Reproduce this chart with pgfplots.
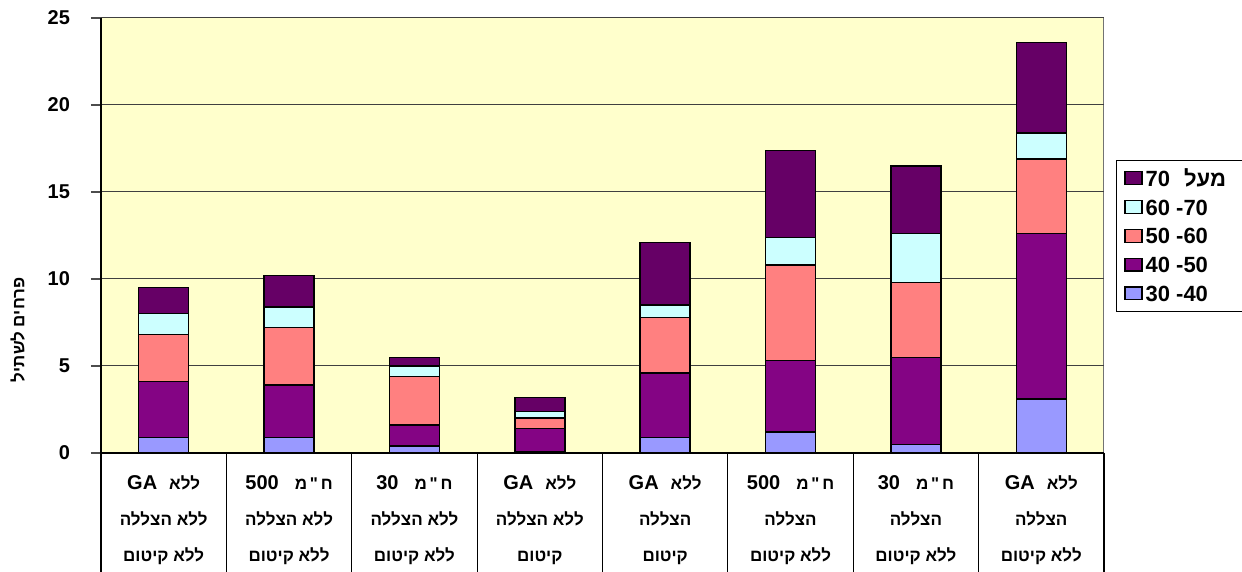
\documentclass[border=0pt]{standalone}
\usepackage{fontspec}
\setmainfont{Liberation Sans}
\newfontfamily\heb[Script=Hebrew]{Liberation Sans}
\TeXXeTstate=1
\usepackage{pgfplots}
\pgfplotsset{compat=1.18}
\definecolor{cA}{HTML}{9999FF}
\definecolor{cB}{HTML}{840484}
\definecolor{cC}{HTML}{FF8080}
\definecolor{cD}{HTML}{CCFFFF}
\definecolor{cE}{HTML}{660066}
\definecolor{bgY}{HTML}{FFFFCC}
\newcommand{\lat}{\fontsize{10}{18}\selectfont}
\begin{document}
\begin{tikzpicture}
\useasboundingbox (-50.5pt,-59.5pt) rectangle (570.5pt,226.5pt);
\begin{axis}[
  at={(0pt,0pt)}, anchor=south west,
  scale only axis, width=501.5pt, height=217.5pt,
  xmin=-0.5, xmax=7.5, ymin=0, ymax=25,
  ybar stacked, bar width=25pt,
  clip=false,
  axis background/.style={fill=bgY, draw=black!55, line width=0.5pt},
  axis line style={draw=none},
  ytick={0,5,...,25}, ytick pos=left, xtick pos=bottom,
  ymajorgrids, grid style={black!75, line width=0.5pt},
  tick align=outside, major tick length=5pt,
  ytick style={black!70, line width=0.6pt},
  xtick={0,...,7},
  xtick style={draw=none},
  /pgf/number format/assume math mode=true,
  yticklabel style={font=\fontsize{10}{11}\selectfont\bfseries, xshift=-7pt},
  xticklabel style={font=\fontsize{8.5}{18}\selectfont\bfseries, align=center, anchor=north, yshift=-2.5pt},
  xticklabels={
    {{\heb\beginR ללא\hspace{6pt}\beginL{\lat GA}\endL\endR}\\{\heb\beginR ללא הצללה\endR}\\{\heb\beginR ללא קיטום\endR}},
    {{\heb\beginR ח\,"\,מ\hspace{8pt}\beginL{\lat 500}\endL\endR}\\{\heb\beginR ללא הצללה\endR}\\{\heb\beginR ללא קיטום\endR}},
    {{\heb\beginR ח\,"\,מ\hspace{8pt}\beginL{\lat 30}\endL\endR}\\{\heb\beginR ללא הצללה\endR}\\{\heb\beginR ללא קיטום\endR}},
    {{\heb\beginR ללא\hspace{6pt}\beginL{\lat GA}\endL\endR}\\{\heb\beginR ללא הצללה\endR}\\{\heb\beginR קיטום\endR}},
    {{\heb\beginR ללא\hspace{6pt}\beginL{\lat GA}\endL\endR}\\{\heb\beginR הצללה\endR}\\{\heb\beginR קיטום\endR}},
    {{\heb\beginR ח\,"\,מ\hspace{8pt}\beginL{\lat 500}\endL\endR}\\{\heb\beginR הצללה\endR}\\{\heb\beginR ללא קיטום\endR}},
    {{\heb\beginR ח\,"\,מ\hspace{8pt}\beginL{\lat 30}\endL\endR}\\{\heb\beginR הצללה\endR}\\{\heb\beginR ללא קיטום\endR}},
    {{\heb\beginR ללא\hspace{6pt}\beginL{\lat GA}\endL\endR}\\{\heb\beginR הצללה\endR}\\{\heb\beginR ללא קיטום\endR}}
  },
  ylabel={{\heb\beginR פרחים לשתיל\endR}},
  ylabel style={at={(axis description cs:-0.083,0.283)}, anchor=center, font=\fontsize{8.5}{10}\selectfont\bfseries},
  reverse legend,
  legend cell align=left,
  legend style={at={(1.012,0.674)}, anchor=north west, draw=black, fill=white,
    font=\fontsize{11}{12}\selectfont\bfseries, row sep=3.4pt,
    inner xsep=4pt, inner ysep=3.5pt,
    nodes={inner sep=1.5pt, text height=8pt, text depth=0pt}},
  legend image code/.code={\draw[#1, draw=black, line width=0.6pt] (0pt,-3.2pt) rectangle (8.5pt,3.2pt);},
  every axis plot/.append style={draw=black, line width=0.7pt},
]
\addplot[fill=cA] coordinates {(0,0.9) (1,0.9) (2,0.4) (3,0.1) (4,0.9) (5,1.2) (6,0.5) (7,3.1)};
\addplot[fill=cB] coordinates {(0,3.2) (1,3.0) (2,1.2) (3,1.3) (4,3.7) (5,4.1) (6,5.0) (7,9.5)};
\addplot[fill=cC] coordinates {(0,2.7) (1,3.3) (2,2.8) (3,0.6) (4,3.2) (5,5.5) (6,4.3) (7,4.3)};
\addplot[fill=cD] coordinates {(0,1.2) (1,1.2) (2,0.6) (3,0.4) (4,0.7) (5,1.6) (6,2.8) (7,1.5)};
\addplot[fill=cE] coordinates {(0,1.5) (1,1.8) (2,0.5) (3,0.8) (4,3.6) (5,5.0) (6,3.9) (7,5.2)};
\legend{\makebox[44.5pt][l]{30 -40}, \makebox[44.5pt][l]{40 -50}, \makebox[44.5pt][l]{50 -60}, \makebox[44.5pt][l]{60 -70}, {\makebox[44.5pt][l]{\heb\beginR מעל\hspace{7pt}\beginL 70\endL\endR}}}
\draw[black, line width=0.8pt] (rel axis cs:0,0) -- (rel axis cs:0,1);
\draw[black, line width=0.8pt] (rel axis cs:0,0) -- (rel axis cs:1,0);
\pgfplotsinvokeforeach{-0.5,0.5,1.5,2.5,3.5,4.5,5.5,6.5,7.5}{
  \draw[black, line width=0.6pt] (axis cs:#1,0) -- ([yshift=-59.5pt]axis cs:#1,0);
}
\end{axis}
\end{tikzpicture}
\end{document}
